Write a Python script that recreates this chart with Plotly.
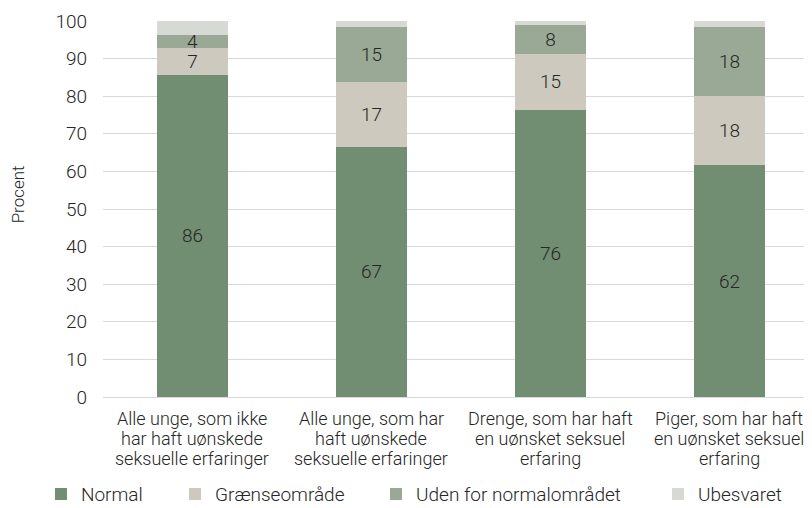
import plotly.graph_objects as go

# Data (percent)
categories = [
    "Alle unge, som ikke<br>har haft uønskede<br>seksuelle erfaringer",
    "Alle unge, som har<br>haft uønskede<br>seksuelle erfaringer",
    "Drenge, som har haft<br>en uønsket seksuel<br>erfaring",
    "Piger, som har haft<br>en uønsket seksuel<br>erfaring",
]
normal = [85.7, 66.6, 76.3, 61.6]
graense = [7.1, 17.2, 15.0, 18.4]
uden = [3.6, 14.7, 7.6, 18.4]
ubesvaret = [3.6, 1.5, 1.1, 1.6]

series = [
    ("Normal", normal, "#728e72", True, "legend"),
    ("Grænseområde", graense, "#cdc9be", True, "legend2"),
    ("Uden for normalområdet", uden, "#99a995", True, "legend3"),
    ("Ubesvaret", ubesvaret, "#d7dad4", False, "legend4"),
]

FONT = "Roboto"
TXT = "#262626"
SIZE = 19

fig = go.Figure()
for name, vals, color, show_text, leg in series:
    fig.add_trace(go.Bar(
        x=categories,
        y=vals,
        name=name,
        marker=dict(color=color, line=dict(width=0)),
        width=0.4,
        text=[f"{v:.0f}" for v in vals] if show_text else None,
        textposition="inside" if show_text else "none",
        insidetextanchor="middle",
        textangle=0,
        constraintext="none",
        textfont=dict(family=FONT, size=SIZE, color=TXT, weight=300),
        legend=leg,
        showlegend=True,
    ))

# category labels: one annotation per line to get the tight line spacing
for i, label in enumerate(categories):
    for j, line in enumerate(label.split("<br>")):
        fig.add_annotation(
            x=i, y=0, xref="x", yref="paper",
            text=line, showarrow=False,
            xanchor="center", yanchor="middle",
            yshift=-21 - 20 * j,
            font=dict(family=FONT, size=18, color=TXT, weight=300),
        )

# y axis title
fig.add_annotation(
    x=-0.118, y=0.54, xref="paper", yref="paper",
    text="Procent", textangle=-90, showarrow=False,
    xanchor="center", yanchor="middle",
    font=dict(family=FONT, size=17, color=TXT, weight=300),
)

# separate legends so the entries can be spaced like the original
leg_style = dict(orientation="h", yanchor="middle", xanchor="left",
                 xref="container", yref="container", y=0.043,
                 font=dict(family=FONT, size=SIZE, color=TXT, weight=300),
                 bgcolor="rgba(0,0,0,0)", itemwidth=30)

fig.update_layout(
    barmode="stack",
    width=812,
    height=508,
    showlegend=True,
    margin=dict(l=95, r=0, t=13, b=119, autoexpand=False),
    plot_bgcolor="white",
    paper_bgcolor="white",
    font=dict(family=FONT, size=SIZE, color=TXT, weight=300),
    xaxis=dict(
        range=[-0.5, 3.506],
        showgrid=False,
        showline=True,
        linecolor="#d9d9d9",
        linewidth=1,
        ticks="",
        showticklabels=False,
    ),
    yaxis=dict(
        range=[0, 100],
        dtick=10,
        showgrid=True,
        gridcolor="#d9d9d9",
        gridwidth=1,
        zeroline=False,
        ticks="",
        ticklabelstandoff=15,
        tickfont=dict(family=FONT, size=SIZE, color=TXT, weight=300),
    ),
    legend=dict(x=0.0406, **leg_style),
    legend2=dict(x=0.2057, **leg_style),
    legend3=dict(x=0.4532, **leg_style),
    legend4=dict(x=0.8005, **leg_style),
)

fig.write_html("out.html")
